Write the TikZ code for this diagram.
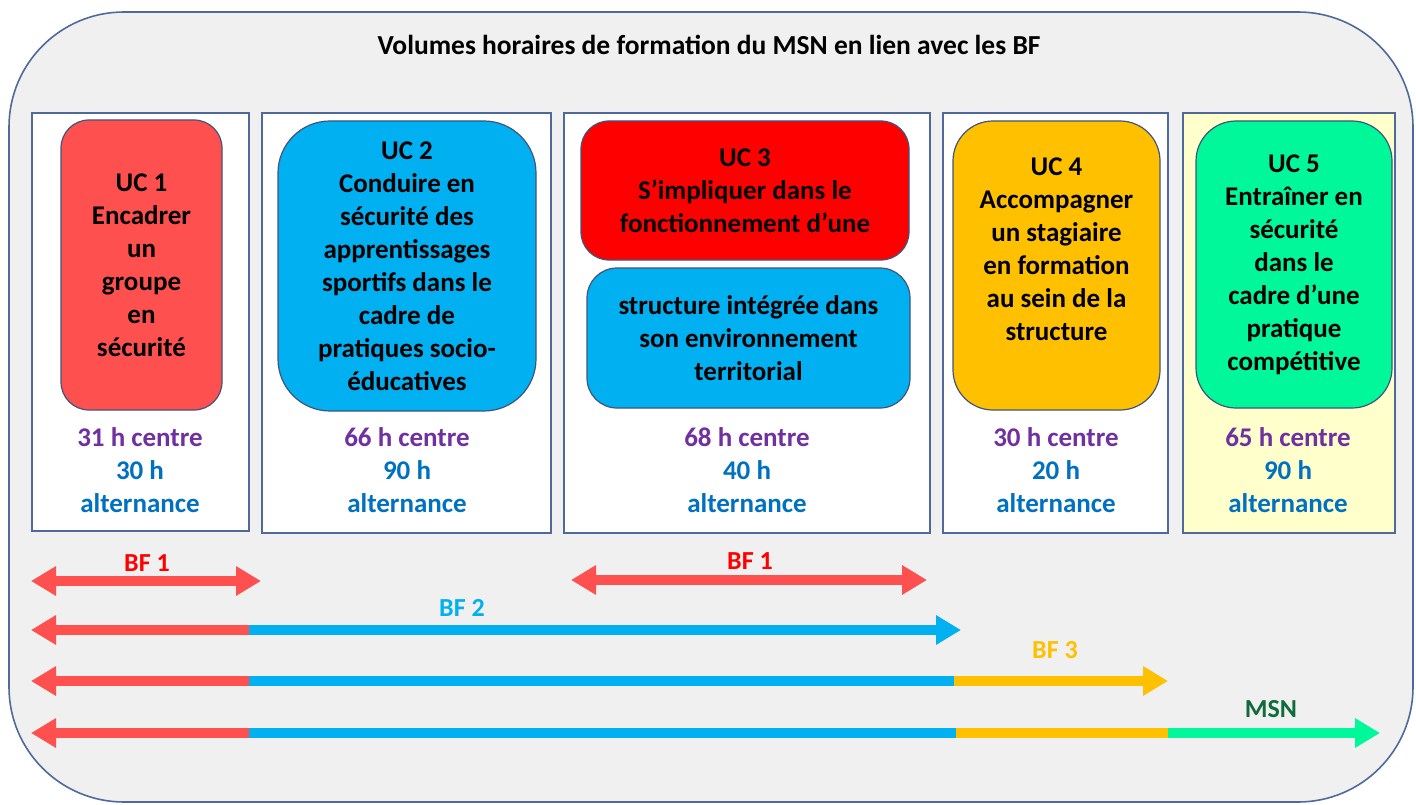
\documentclass[tikz,border=0pt]{standalone}
\usepackage{fontspec}
\setmainfont{Carlito}
\usetikzlibrary{arrows.meta}

\definecolor{framecol}{HTML}{4F6A9A}
\definecolor{bgcol}{HTML}{F0F0F0}
\definecolor{ucred}{HTML}{FF5050}
\definecolor{ucblue}{HTML}{00B0F0}
\definecolor{ucdeepred}{HTML}{FF0000}
\definecolor{ucorange}{HTML}{FFC000}
\definecolor{ucgreen}{HTML}{00F79A}
\definecolor{paleyellow}{HTML}{FFFFCC}
\definecolor{hourpurple}{HTML}{7030A0}
\definecolor{hourblue}{HTML}{0070C0}
\definecolor{msngreen}{HTML}{0F6B3B}

\begin{document}
\begin{tikzpicture}[x=1pt,y=-1pt]
		\tikzset{colstyle/.style={rectangle, draw=framecol, line width=1.6pt, fill=white, inner sep=0pt}}
		\tikzset{ucstyle/.style={rectangle, draw=framecol!80!black, line width=1.2pt, inner sep=0pt, align=center, font=\fontsize{27}{33}\selectfont\bfseries}}
		\tikzset{hourstyle/.style={align=center, font=\fontsize{27}{33}\selectfont\bfseries}}
		\tikzset{bfstyle/.style={font=\fontsize{26}{30}\selectfont\bfseries}}
		\tikzset{bfline/.style={line width=10pt}}
		\tikzset{tip/.tip={Triangle[width=28pt,length=25pt]}}
		
		\useasboundingbox (0,0) rectangle (1416,805);
		\node[rectangle, draw=framecol, line width=1.6pt, fill=bgcol, rounded corners=115pt, minimum width=1404pt, minimum height=790pt] (rectframe) at (711,407) {};
		\node[font=\fontsize{27.5}{32}\selectfont\bfseries] (recttitle) at (709,45) {Volumes horaires de formation du MSN en lien avec les BF};
		
		% columns
		\node[colstyle, minimum width=217pt, minimum height=418pt] (rectcolone) at (140.5,322) {};
		\node[colstyle, minimum width=289pt, minimum height=420pt] (rectcoltwo) at (406.5,323) {};
		\node[colstyle, minimum width=366pt, minimum height=420pt] (rectcolthree) at (747,323) {};
		\node[colstyle, minimum width=225pt, minimum height=420pt] (rectcolfour) at (1055.5,323) {};
		\node[colstyle, fill=paleyellow, minimum width=212pt, minimum height=420pt] (rectcolfive) at (1289,323) {};
		
		\node[ucstyle, fill=ucred, rounded corners=28pt, minimum width=161pt, minimum height=290pt] (rectucone) at (141.5,265) {UC 1\\Encadrer\\un\\groupe\\en\\sécurité};
		\node[ucstyle, fill=ucblue, rounded corners=52pt, minimum width=258pt, minimum height=290pt] (rectuctwo) at (407,266) {UC 2\\Conduire en\\sécurité des\\apprentissages\\sportifs dans le\\cadre de\\pratiques socio-\\éducatives};
		\node[ucstyle, fill=ucdeepred, rounded corners=28pt, minimum width=328pt, minimum height=139pt] (rectucthree) at (745,190.5) {UC 3\\S’impliquer dans le\\fonctionnement d’une};
		\node[ucstyle, fill=ucblue, rounded corners=30pt, minimum width=323pt, minimum height=140pt] (rectucthreeb) at (748.5,338) {structure intégrée dans\\son environnement\\territorial};
		\node[ucstyle, fill=ucorange, rounded corners=40pt, minimum width=207pt, minimum height=289pt] (rectucfour) at (1056.5,265.5) {UC 4\\Accompagner\\un stagiaire\\en formation\\au sein de la\\structure\\\mbox{}};
		\node[ucstyle, fill=ucgreen, rounded corners=40pt, minimum width=196pt, minimum height=287pt] (rectucfive) at (1294,264.5) {UC 5\\Entraîner en\\sécurité\\dans le\\cadre d’une\\pratique\\compétitive};
		
		\node[hourstyle] (rechourone) at (140,470) {\textcolor{hourpurple}{31 h centre}\\\textcolor{hourblue}{30 h}\\\textcolor{hourblue}{alternance}};
		\node[hourstyle] (rechourtwo) at (407,470) {\textcolor{hourpurple}{66 h centre}\\\textcolor{hourblue}{90 h}\\\textcolor{hourblue}{alternance}};
		\node[hourstyle] (rechourthree) at (747,470) {\textcolor{hourpurple}{68 h centre}\\\textcolor{hourblue}{40 h}\\\textcolor{hourblue}{alternance}};
		\node[hourstyle] (rechourfour) at (1056,470) {\textcolor{hourpurple}{30 h centre}\\\textcolor{hourblue}{20 h}\\\textcolor{hourblue}{alternance}};
		\node[hourstyle] (rechourfive) at (1288,470) {\textcolor{hourpurple}{65 h centre}\\\textcolor{hourblue}{90 h}\\\textcolor{hourblue}{alternance}};
		
		% arrow ends
		\coordinate (bfoneL) at (31,581);
		\coordinate (bfoneR) at (261,581);
		\coordinate (bfoneLb) at (571,580);
		\coordinate (bfoneRb) at (927,580);
		\coordinate (bftwoL) at (31,630);
		\coordinate (bftwoA) at (249,630);
		\coordinate (bftwoR) at (961,630);
		\coordinate (bfthreeL) at (31,681);
		\coordinate (bfthreeA) at (249,681);
		\coordinate (bfthreeB) at (954,681);
		\coordinate (bfthreeR) at (1168,681);
		\coordinate (msnL) at (31,733);
		\coordinate (msnA) at (249,733);
		\coordinate (msnB) at (956,733);
		\coordinate (msnC) at (1168,733);
		\coordinate (msnR) at (1380,733);
		
		\draw [bfline, ucred, tip-tip] (bfoneL) to (bfoneR);
		\draw [bfline, ucred, tip-tip] (bfoneLb) to (bfoneRb);
		\draw [bfline, ucred, tip-] (bftwoL) to (bftwoA);
		\draw [bfline, ucblue, -tip] (bftwoA) to (bftwoR);
		\draw [bfline, ucred, tip-] (bfthreeL) to (bfthreeA);
		\draw [bfline, ucblue] (bfthreeA) to (bfthreeB);
		\draw [bfline, ucorange, -tip] (bfthreeB) to (bfthreeR);
		\draw [bfline, ucred, tip-] (msnL) to (msnA);
		\draw [bfline, ucblue] (msnA) to (msnB);
		\draw [bfline, ucorange] (msnB) to (msnC);
		\draw [bfline, ucgreen, -tip] (msnC) to (msnR);
		
		\node[bfstyle, text=ucdeepred] (lblbfone) at (147,563) {BF 1};
		\node[bfstyle, text=ucdeepred] (lblbfoneb) at (750,561) {BF 1};
		\node[bfstyle, text=ucblue] (lblbftwo) at (462,608) {BF 2};
		\node[bfstyle, text=ucorange] (lblbfthree) at (1055,650) {BF 3};
		\node[bfstyle, text=msngreen] (lblmsn) at (1271,709) {MSN};
		
\end{tikzpicture}
\end{document}
